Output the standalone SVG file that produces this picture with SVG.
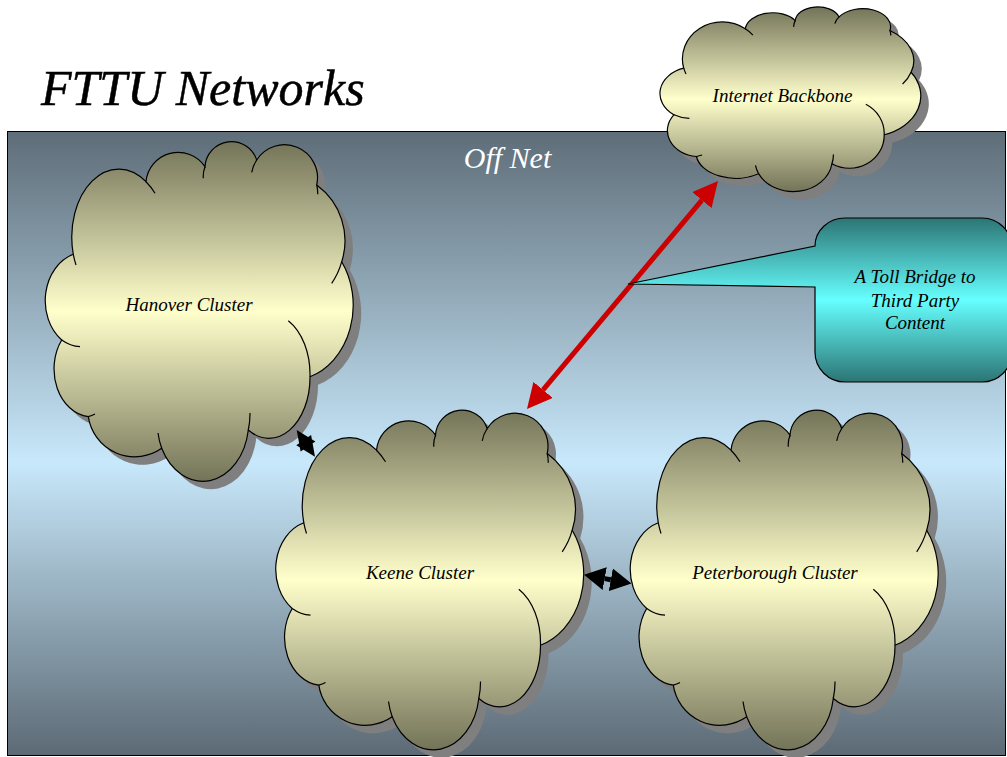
<svg xmlns="http://www.w3.org/2000/svg" xmlns:xlink="http://www.w3.org/1999/xlink" width="1007" height="757" viewBox="0 0 1007 757">
  <style>
    .cloud { fill: url(#cloudFill); stroke: #000; stroke-width: 1.2; }
    .cloud-shadow { fill: #7f7f7f; stroke: none; }
    .tails { fill: none; stroke: #000; stroke-width: 1.2; }
  </style>
  <defs>
    <linearGradient id="panelFill" x1="0" y1="0" x2="0" y2="1">
      <stop offset="0" stop-color="#5e6d78"/>
      <stop offset="0.53" stop-color="#c8e8fb"/>
      <stop offset="1" stop-color="#5c6a75"/>
    </linearGradient>
    <linearGradient id="cloudFill" x1="0" y1="0" x2="0" y2="1">
      <stop offset="0" stop-color="#737358"/>
      <stop offset="0.5" stop-color="#ffffcc"/>
      <stop offset="1" stop-color="#737358"/>
    </linearGradient>
    <linearGradient id="calloutFill" x1="0" y1="0" x2="0" y2="1">
      <stop offset="0" stop-color="#2c7574"/>
      <stop offset="0.5" stop-color="#66ffff"/>
      <stop offset="1" stop-color="#2c7574"/>
    </linearGradient>

    <!-- cloud outline in a 307 x 338 local box -->
    <path id="cloudShape" vector-effect="non-scaling-stroke"
          d="M27.3 113.3 A47 68 0 0 1 100 40.7 A32.3 32.3 0 0 1 159 25.7 A26.5 26.5 0 0 1 210.7 19 A33 33 0 0 1 270.7 44 A69 69 0 0 1 295.7 120.7 A62 75 0 0 1 264 235.7 A41 61 0 0 1 202.3 289 A46 60 0 0 1 115.7 307.3 A47 47 0 0 1 42.3 275.7 A38 48 0 0 1 15.7 199 A40 48.6 0 0 1 27.3 113.3 Z"/>
    <!-- short inner arcs where the lobes overlap -->
    <path id="cloudTails" vector-effect="non-scaling-stroke"
          d="M30 124 A47 68 0 0 1 27.3 113.3 M100 40.7 A47 68 0 0 1 109 52.3 M157.3 37.3 A26.5 26.5 0 0 1 159 25.7 M205.7 31.3 A33 33 0 0 1 210.7 19 M270.7 44 A33 33 0 0 1 271.7 53.3 M295.7 120.7 A69 69 0 0 1 285.7 142.3 M242.3 179.7 A41 61 0 0 1 264 235.7 M204 272 A46 60 0 0 1 202.3 289 M115.7 307.3 A46 60 0 0 1 112 292 M49 273 A38 48 0 0 1 42.3 275.7 M34 205.7 A40 48.6 0 0 1 15.7 199"/>

    <marker id="headRed" markerUnits="userSpaceOnUse" markerWidth="25" markerHeight="25" viewBox="0 0 25 25" refX="0" refY="12.5" orient="auto-start-reverse">
      <path d="M0,0 L25,12.5 L0,25 Z" fill="#cc0000"/>
    </marker>
    <marker id="headBlack" markerUnits="userSpaceOnUse" markerWidth="21" markerHeight="23" viewBox="0 0 21 23" refX="0" refY="11.5" orient="auto-start-reverse">
      <path d="M0,0 L21,11.5 L0,23 Z" fill="#000"/>
    </marker>
  </defs>

  <rect width="1007" height="757" fill="#ffffff"/>

  <!-- all labels share one italic serif face -->
  <g font-family="'Liberation Serif', 'Times New Roman', serif" font-style="italic">

  <!-- title -->
  <text x="41" y="105" font-size="50" fill="#000" stroke="#000" stroke-width="0.5">FTTU Networks</text>

  <!-- off-net panel -->
  <g id="offnet-panel">
    <rect x="7.5" y="131.5" width="998" height="624" fill="url(#panelFill)" stroke="#000" stroke-width="1"/>
    <text x="507.5" y="168.3" font-size="30" text-anchor="middle" fill="#ffffff">Off Net</text>
  </g>

  <!-- clusters -->
  <g id="hanover-cluster">
    <use href="#cloudShape" class="cloud-shadow" transform="translate(54,149)"/>
    <g transform="translate(46,141)">
      <use href="#cloudShape" class="cloud"/>
      <use href="#cloudTails" class="tails"/>
    </g>
    <text x="189" y="311" font-size="19" text-anchor="middle" fill="#000">Hanover Cluster</text>
  </g>

  <g id="keene-cluster">
    <use href="#cloudShape" class="cloud-shadow" transform="translate(284.5,417.5)"/>
    <g transform="translate(276.5,409.5)">
      <use href="#cloudShape" class="cloud"/>
      <use href="#cloudTails" class="tails"/>
    </g>
    <text x="420" y="579" font-size="19" text-anchor="middle" fill="#000">Keene Cluster</text>
  </g>

  <g id="peterborough-cluster">
    <use href="#cloudShape" class="cloud-shadow" transform="translate(639,417.5)"/>
    <g transform="translate(631,409.5)">
      <use href="#cloudShape" class="cloud"/>
      <use href="#cloudTails" class="tails"/>
    </g>
    <text x="775" y="579" font-size="19" text-anchor="middle" fill="#000">Peterborough Cluster</text>
  </g>

  <g id="internet-backbone">
    <use href="#cloudShape" class="cloud-shadow" transform="translate(668.6,14.6) scale(0.847,0.5437)"/>
    <g transform="translate(660.6,6.6) scale(0.847,0.5437)">
      <use href="#cloudShape" class="cloud"/>
      <use href="#cloudTails" class="tails"/>
    </g>
    <text x="782.5" y="102" font-size="19" text-anchor="middle" fill="#000">Internet Backbone</text>
  </g>

  <!-- links -->
  <g id="connectors">
    <path d="M543.05 389.85 L701.95 200.15" fill="none" stroke="#cc0000" stroke-width="5" marker-start="url(#headRed)" marker-end="url(#headRed)"/>
    <!-- Hanover / Keene: two short heads crossing each other -->
    <path d="M296.7 430 L315.4 441.4 L300.6 451.6 Z M315 456.7 L296.3 445.3 L311.1 435.1 Z" fill="#000"/>
    <path d="M604.7 578.6 L610.8 579.7" fill="none" stroke="#000" stroke-width="5" marker-start="url(#headBlack)" marker-end="url(#headBlack)"/>
  </g>

  <!-- callout -->
  <g id="toll-bridge-callout">
    <path d="M845 218 H982 A30 30 0 0 1 1012 248 V352 A30 30 0 0 1 982 382 H845 A30 30 0 0 1 815 352 V287 L628 284 L815 246 A30 28 0 0 1 845 218 Z"
          fill="url(#calloutFill)" stroke="#000" stroke-width="1.2"/>
    <text x="915" y="283.3" font-size="19" text-anchor="middle" fill="#000">A Toll Bridge to</text>
    <text x="915" y="306.7" font-size="19" text-anchor="middle" fill="#000">Third Party</text>
    <text x="915" y="329.3" font-size="19" text-anchor="middle" fill="#000">Content</text>
  </g>

  </g>
</svg>
